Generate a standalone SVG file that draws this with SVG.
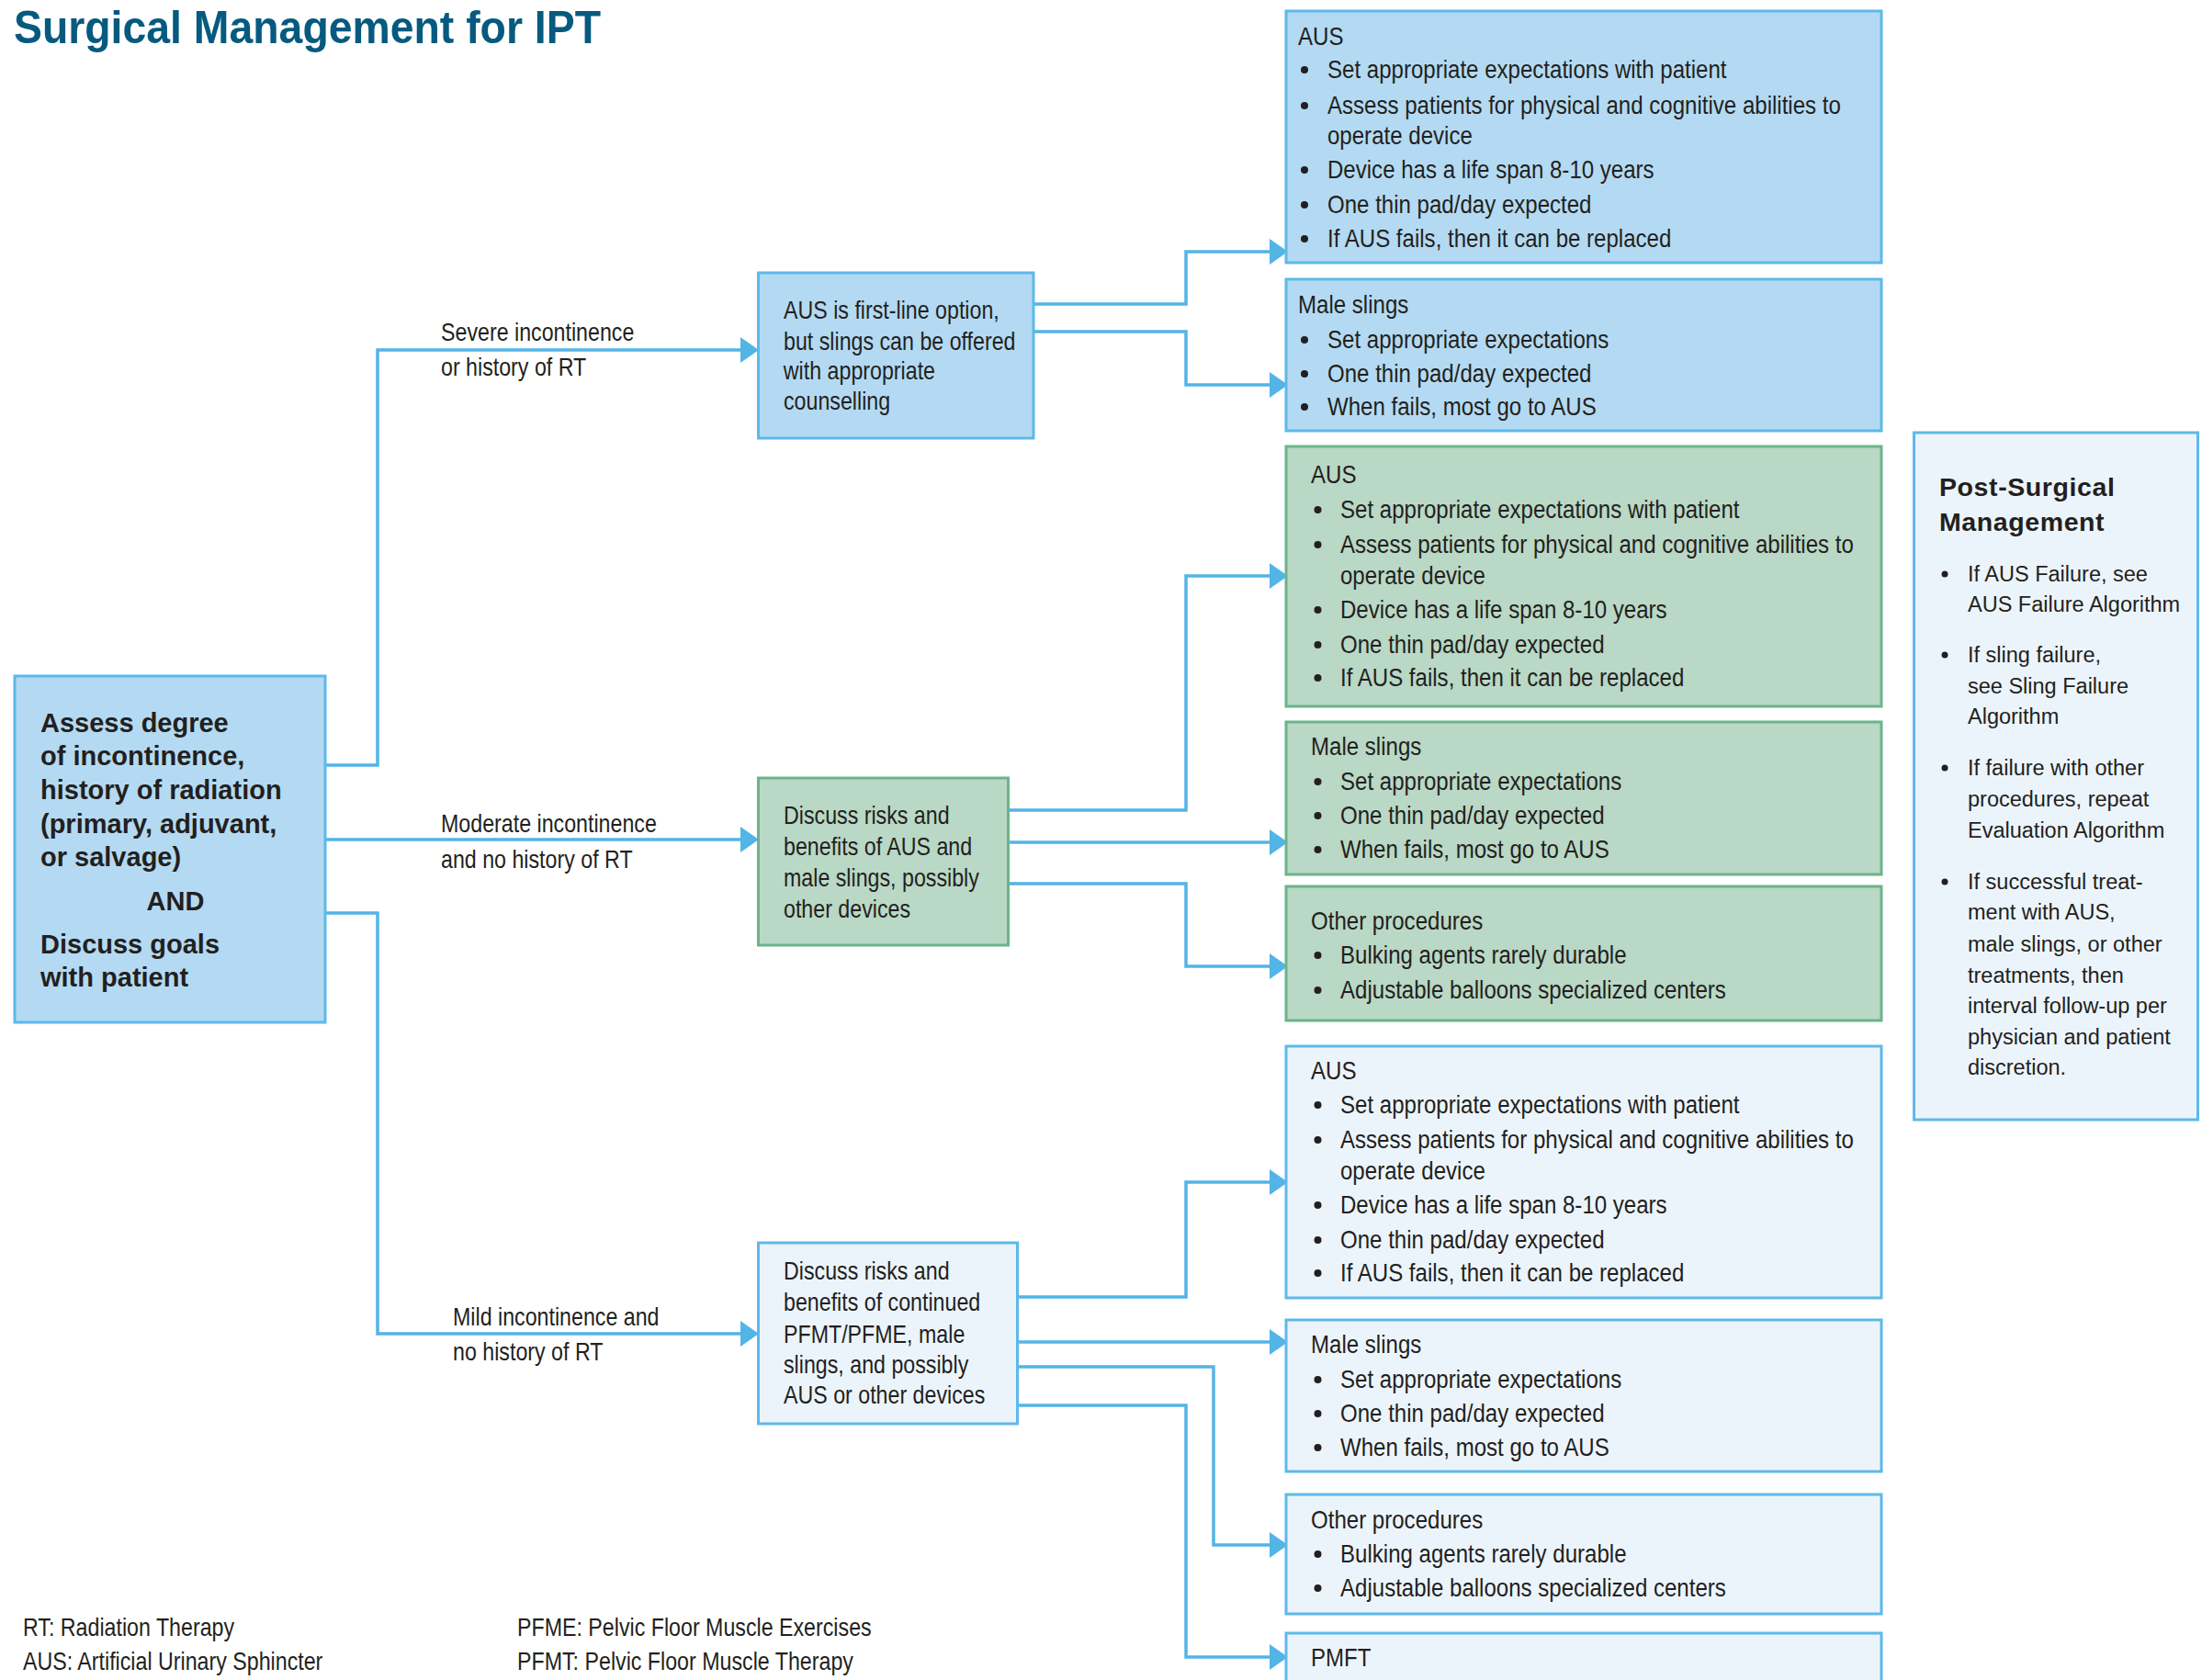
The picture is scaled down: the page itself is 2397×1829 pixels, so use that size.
<svg xmlns="http://www.w3.org/2000/svg" width="2397" height="1829" viewBox="0 0 2397 1829">
<defs>
<style>
.bg{fill:#ffffff}
.blue{fill:#b3daf2;stroke:#5db9e9;stroke-width:3}
.green{fill:#b9d8c5;stroke:#6cb48b;stroke-width:3}
.pale{fill:#ecf4fb;stroke:#5db9e9;stroke-width:3}
.conn{fill:none;stroke:#53b4e6;stroke-width:3.5;stroke-linejoin:miter;marker-end:url(#ah)}
.conn0{fill:none;stroke:#53b4e6;stroke-width:3.5;stroke-linejoin:miter}
.title{font-family:"Liberation Sans",Arial,sans-serif;font-weight:bold;font-size:50px;fill:#065a7f}
.b29{font-family:"Liberation Sans",Arial,sans-serif;font-weight:bold;font-size:29px;fill:#231f20}
.c27{font-family:"Liberation Sans",Arial,sans-serif;font-size:27px;fill:#231f20;transform-box:fill-box;transform-origin:left top;transform:scaleX(0.86)}
.c28{font-family:"Liberation Sans",Arial,sans-serif;font-size:27.5px;fill:#231f20;transform-box:fill-box;transform-origin:left top;transform:scaleX(0.875)}
.p23{font-family:"Liberation Sans",Arial,sans-serif;font-size:23.5px;fill:#231f20}
.pb{font-family:"Liberation Sans",Arial,sans-serif;font-weight:bold;font-size:28.5px;fill:#231f20;letter-spacing:0.6px}
.dot{fill:#231f20}
</style>
<marker id="ah" markerUnits="userSpaceOnUse" markerWidth="20" markerHeight="28" refX="11" refY="14" orient="auto" viewBox="0 0 20 28">
<path d="M0,0 L20,14 L0,28 z" fill="#53b4e6"/>
</marker>
</defs>
<rect class="bg" x="0" y="0" width="2397" height="1829"/>

<text class="title" x="15" y="47" textLength="639" lengthAdjust="spacingAndGlyphs">Surgical Management for IPT</text>

<g id="connectors">
<path class="conn" d="M354,833 H411 V381 H817"/>
<path class="conn" d="M354,914 H817"/>
<path class="conn" d="M354,994 H411 V1452 H817"/>
<path class="conn" d="M1125,331 H1291 V274 H1393"/>
<path class="conn" d="M1125,361 H1291 V419 H1393"/>
<path class="conn" d="M1098,882 H1291 V627 H1393"/>
<path class="conn" d="M1098,917 H1393"/>
<path class="conn" d="M1098,962 H1291 V1052 H1393"/>
<path class="conn" d="M1107,1412 H1291 V1287 H1393"/>
<path class="conn" d="M1107,1461 H1393"/>
<path class="conn" d="M1107,1488 H1321 V1682 H1393"/>
<path class="conn" d="M1107,1530 H1291 V1804 H1393"/>
<g id="edge-labels">
<text class="c27" x="480" y="371">Severe incontinence</text>
<text class="c27" x="480" y="409">or history of RT</text>
<text class="c27" x="480" y="906">Moderate incontinence</text>
<text class="c27" x="480" y="945">and no history of RT</text>
<text class="c27" x="493" y="1443">Mild incontinence and</text>
<text class="c27" x="493" y="1481">no history of RT</text>
</g>
</g>

<g id="n-assess">
<rect class="blue" x="16" y="736" width="338" height="377"/>
<text class="b29" x="44" y="797">Assess degree</text>
<text class="b29" x="44" y="833">of incontinence,</text>
<text class="b29" x="44" y="870">history of radiation</text>
<text class="b29" x="44" y="907">(primary, adjuvant,</text>
<text class="b29" x="44" y="943">or salvage)</text>
<text class="b29" x="191" y="991" text-anchor="middle">AND</text>
<text class="b29" x="44" y="1038">Discuss goals</text>
<text class="b29" x="44" y="1074">with patient</text>
</g>

<g id="n-severe">
<rect class="blue" x="825.5" y="297" width="299.5" height="180"/>
<text class="c27" x="853" y="347">AUS is first-line option,</text>
<text class="c27" x="853" y="381">but slings can be offered</text>
<text class="c27" x="853" y="413">with appropriate</text>
<text class="c27" x="853" y="446">counselling</text>
</g>

<g id="n-moderate">
<rect class="green" x="825.5" y="847" width="272" height="182"/>
<text class="c27" x="853" y="897">Discuss risks and</text>
<text class="c27" x="853" y="931">benefits of AUS and</text>
<text class="c27" x="853" y="965">male slings, possibly</text>
<text class="c27" x="853" y="999">other devices</text>
</g>

<g id="n-mild">
<rect class="pale" x="825.5" y="1353" width="282" height="197"/>
<text class="c27" x="853" y="1393">Discuss risks and</text>
<text class="c27" x="853" y="1427">benefits of continued</text>
<text class="c27" x="853" y="1462">PFMT/PFME, male</text>
<text class="c27" x="853" y="1495">slings, and possibly</text>
<text class="c27" x="853" y="1528">AUS or other devices</text>
</g>

<g id="r-severe-aus">
<rect class="blue" x="1400" y="12" width="648" height="274"/>
<text class="c28" x="1413" y="49">AUS</text>
<circle class="dot" cx="1420" cy="76" r="4"/><text class="c28" x="1445" y="85">Set appropriate expectations with patient</text>
<circle class="dot" cx="1420" cy="115" r="4"/><text class="c28" x="1445" y="124">Assess patients for physical and cognitive abilities to</text>
<text class="c28" x="1445" y="157">operate device</text>
<circle class="dot" cx="1420" cy="185" r="4"/><text class="c28" x="1445" y="194">Device has a life span 8-10 years</text>
<circle class="dot" cx="1420" cy="223" r="4"/><text class="c28" x="1445" y="232">One thin pad/day expected</text>
<circle class="dot" cx="1420" cy="260" r="4"/><text class="c28" x="1445" y="269">If AUS fails, then it can be replaced</text>
</g>

<g id="r-severe-slings">
<rect class="blue" x="1400" y="304" width="648" height="165"/>
<text class="c28" x="1413" y="341">Male slings</text>
<circle class="dot" cx="1420" cy="370" r="4"/><text class="c28" x="1445" y="379">Set appropriate expectations</text>
<circle class="dot" cx="1420" cy="407" r="4"/><text class="c28" x="1445" y="416">One thin pad/day expected</text>
<circle class="dot" cx="1420" cy="443" r="4"/><text class="c28" x="1445" y="452">When fails, most go to AUS</text>
</g>

<g id="r-moderate-aus">
<rect class="green" x="1400" y="486" width="648" height="283"/>
<text class="c28" x="1427" y="526">AUS</text>
<circle class="dot" cx="1434.5" cy="555" r="4"/><text class="c28" x="1459" y="564">Set appropriate expectations with patient</text>
<circle class="dot" cx="1434.5" cy="593" r="4"/><text class="c28" x="1459" y="602">Assess patients for physical and cognitive abilities to</text>
<text class="c28" x="1459" y="636">operate device</text>
<circle class="dot" cx="1434.5" cy="664" r="4"/><text class="c28" x="1459" y="673">Device has a life span 8-10 years</text>
<circle class="dot" cx="1434.5" cy="702" r="4"/><text class="c28" x="1459" y="711">One thin pad/day expected</text>
<circle class="dot" cx="1434.5" cy="738" r="4"/><text class="c28" x="1459" y="747">If AUS fails, then it can be replaced</text>
</g>

<g id="r-moderate-slings">
<rect class="green" x="1400" y="786" width="648" height="166"/>
<text class="c28" x="1427" y="822">Male slings</text>
<circle class="dot" cx="1434.5" cy="851" r="4"/><text class="c28" x="1459" y="860">Set appropriate expectations</text>
<circle class="dot" cx="1434.5" cy="888" r="4"/><text class="c28" x="1459" y="897">One thin pad/day expected</text>
<circle class="dot" cx="1434.5" cy="925" r="4"/><text class="c28" x="1459" y="934">When fails, most go to AUS</text>
</g>

<g id="r-moderate-other">
<rect class="green" x="1400" y="965" width="648" height="146"/>
<text class="c28" x="1427" y="1012">Other procedures</text>
<circle class="dot" cx="1434.5" cy="1040" r="4"/><text class="c28" x="1459" y="1049">Bulking agents rarely durable</text>
<circle class="dot" cx="1434.5" cy="1078" r="4"/><text class="c28" x="1459" y="1087">Adjustable balloons specialized centers</text>
</g>

<g id="r-mild-aus">
<rect class="pale" x="1400" y="1139" width="648" height="274"/>
<text class="c28" x="1427" y="1175">AUS</text>
<circle class="dot" cx="1434.5" cy="1203" r="4"/><text class="c28" x="1459" y="1212">Set appropriate expectations with patient</text>
<circle class="dot" cx="1434.5" cy="1241" r="4"/><text class="c28" x="1459" y="1250">Assess patients for physical and cognitive abilities to</text>
<text class="c28" x="1459" y="1284">operate device</text>
<circle class="dot" cx="1434.5" cy="1312" r="4"/><text class="c28" x="1459" y="1321">Device has a life span 8-10 years</text>
<circle class="dot" cx="1434.5" cy="1350" r="4"/><text class="c28" x="1459" y="1359">One thin pad/day expected</text>
<circle class="dot" cx="1434.5" cy="1386" r="4"/><text class="c28" x="1459" y="1395">If AUS fails, then it can be replaced</text>
</g>

<g id="r-mild-slings">
<rect class="pale" x="1400" y="1437" width="648" height="165"/>
<text class="c28" x="1427" y="1473">Male slings</text>
<circle class="dot" cx="1434.5" cy="1502" r="4"/><text class="c28" x="1459" y="1511">Set appropriate expectations</text>
<circle class="dot" cx="1434.5" cy="1539" r="4"/><text class="c28" x="1459" y="1548">One thin pad/day expected</text>
<circle class="dot" cx="1434.5" cy="1576" r="4"/><text class="c28" x="1459" y="1585">When fails, most go to AUS</text>
</g>

<g id="r-mild-other">
<rect class="pale" x="1400" y="1627" width="648" height="130"/>
<text class="c28" x="1427" y="1664">Other procedures</text>
<circle class="dot" cx="1434.5" cy="1692" r="4"/><text class="c28" x="1459" y="1701">Bulking agents rarely durable</text>
<circle class="dot" cx="1434.5" cy="1729" r="4"/><text class="c28" x="1459" y="1738">Adjustable balloons specialized centers</text>
</g>

<g id="r-mild-pmft">
<rect class="pale" x="1400" y="1778" width="648" height="80"/>
<text class="c28" x="1427" y="1814">PMFT</text>
</g>

<g id="post-surgical">
<rect class="pale" x="2083.5" y="471" width="309" height="748"/>
<text class="pb" x="2111" y="540">Post-Surgical</text>
<text class="pb" x="2111" y="578">Management</text>
<circle class="dot" cx="2117" cy="625" r="3.5"/><text class="p23" x="2142" y="633">If AUS Failure, see</text>
<text class="p23" x="2142" y="666">AUS Failure Algorithm</text>
<circle class="dot" cx="2117" cy="713" r="3.5"/><text class="p23" x="2142" y="721">If sling failure,</text>
<text class="p23" x="2142" y="755">see Sling Failure</text>
<text class="p23" x="2142" y="788">Algorithm</text>
<circle class="dot" cx="2117" cy="836" r="3.5"/><text class="p23" x="2142" y="844">If failure with other</text>
<text class="p23" x="2142" y="878">procedures, repeat</text>
<text class="p23" x="2142" y="912">Evaluation Algorithm</text>
<circle class="dot" cx="2117" cy="960" r="3.5"/><text class="p23" x="2142" y="968">If successful treat-</text>
<text class="p23" x="2142" y="1001">ment with AUS,</text>
<text class="p23" x="2142" y="1036">male slings, or other</text>
<text class="p23" x="2142" y="1070">treatments, then</text>
<text class="p23" x="2142" y="1103">interval follow-up per</text>
<text class="p23" x="2142" y="1137">physician and patient</text>
<text class="p23" x="2142" y="1170">discretion.</text>
</g>

<g id="legend">
<text class="c27" x="25" y="1781">RT: Radiation Therapy</text>
<text class="c27" x="25" y="1818">AUS: Artificial Urinary Sphincter</text>
<text class="c27" x="563" y="1781">PFME: Pelvic Floor Muscle Exercises</text>
<text class="c27" x="563" y="1818">PFMT: Pelvic Floor Muscle Therapy</text>
</g>
</svg>
